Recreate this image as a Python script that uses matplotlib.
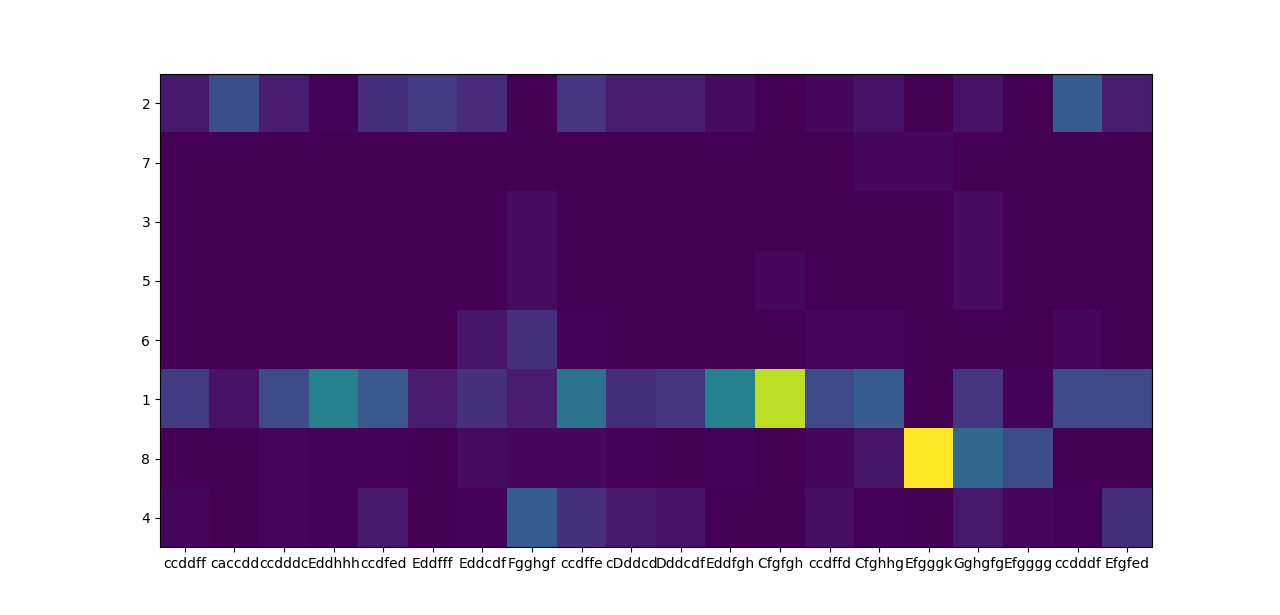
import numpy as np
import matplotlib
matplotlib.use("Agg")
import matplotlib.pyplot as plt

cols = ["ccddff", "caccdd", "ccdddc", "Eddhhh", "ccdfed", "Eddfff", "Eddcdf",
        "Fgghgf", "ccdffe", "cDddcd", "Dddcdf", "Eddfgh", "Cfgfgh", "ccdffd",
        "Cfghhg", "Efgggk", "Gghgfg", "Efgggg", "ccdddf", "Efgfed"]
rows = ["2", "7", "3", "5", "6", "1", "8", "4"]

# one list per row, values on a 0-100 scale
r2 = [7, 24, 8, 1, 13, 17, 12, 0, 16, 8, 8, 3, 0, 2, 5, 0, 5, 0, 29, 8]
r7 = [0, 0, 0, 0, 0, 0, 0, 0.5, 0, 0, 0, 0, 0, 0, 2, 2, 0, 0, 0, 0]
r3 = [0, 0, 0, 0, 0, 0, 0, 3, 0, 0, 0, 0, 0, 0, 0, 0, 3, 0, 0, 0]
r5 = [0, 0, 0, 0, 0, 0, 0, 3, 0, 0, 0, 0, 2, 0, 0, 0, 3, 0, 0, 0]
r6 = [0, 0, 0, 0, 0, 0, 6, 14, 1, 0, 0, 0, 0, 1.5, 1.5, 0, 0, 0, 2, 0]
r1 = [17, 5, 23, 44, 28, 8, 14, 8, 38, 13, 15, 44, 90, 22, 29, 0, 15, 1, 22, 22]
r8 = [0, 0, 1.5, 1, 1, 0, 3, 2, 2, 1, 0, 1, 0, 2, 6, 100, 33, 23, 0, 0]
r4 = [2, 0, 1.5, 1, 7, 0, 1, 30, 14, 7, 5, 0, 0, 4, 1, 0, 7, 2, 1, 13]

data = np.array([r2, r7, r3, r5, r6, r1, r8, r4])

fig, ax = plt.subplots(figsize=(12.8, 6.15), dpi=100)
ax.imshow(data, cmap="viridis", aspect="auto")
ax.set_xticks(range(len(cols)))
ax.set_xticklabels(cols)
ax.set_yticks(range(len(rows)))
ax.set_yticklabels(rows)

fig.savefig("out.png", dpi=100)
